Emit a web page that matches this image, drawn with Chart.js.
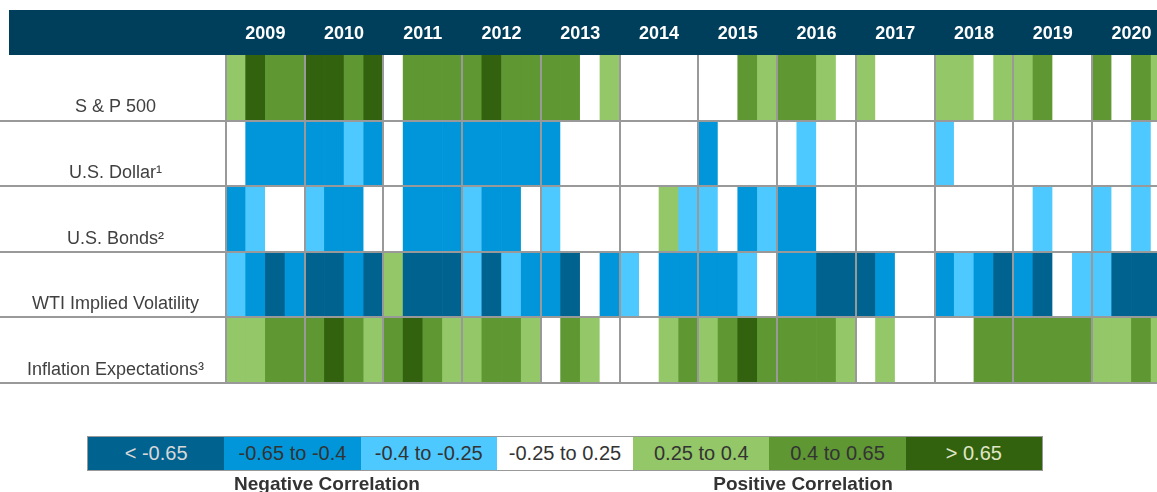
<!DOCTYPE html>
<html>
<head>
<meta charset="utf-8">
<script src="https://cdn.jsdelivr.net/npm/chart.js@4"></script>
<style>
  body { margin: 0; background: #fff; overflow: hidden; font-family: "Liberation Sans", Arial, sans-serif; }
  #wrap { position: absolute; left: 0; top: 0; width: 1157px; height: 492px; }
  #legend { position: absolute; left: 87px; top: 436px; width: 956px; height: 35px; display: flex; border: 1px solid #999; box-sizing: border-box; }
  #legend div { flex: 1; display: flex; align-items: center; justify-content: center; font-size: 20px; color: #333; }
  .grp { position: absolute; top: 473px; width: 220px; text-align: center; line-height: 22px; font-weight: bold; font-size: 19px; color: #333; }
</style>
</head>
<body>
<div id="wrap"><canvas id="myChart" width="1157" height="492"></canvas></div>
<div id="legend"></div>
<div class="grp" style="left:217px">Negative Correlation</div>
<div class="grp" style="left:693px">Positive Correlation</div>
<script>
"use strict";

// one column per quarter, 2009 Q1 .. 2020 Q4
var years = ["2009", "2010", "2011", "2012", "2013", "2014", "2015", "2016", "2017", "2018", "2019", "2020"];
var rows = ["S & P 500", "U.S. Dollar\u00b9", "U.S. Bonds\u00b2", "WTI Implied Volatility", "Inflation Expectations\u00b3"];

var sp500 = [0.3, 0.75, 0.5, 0.5, 0.75, 0.75, 0.5, 0.75, 0, 0.5, 0.5, 0.5, 0.5, 0.75, 0.5, 0.5,
    0.5, 0.5, 0, 0.3, 0, 0, 0, 0, 0, 0, 0.5, 0.3, 0.5, 0.5, 0.3, 0,
    0.3, 0, 0, 0, 0.3, 0.3, 0, 0.3, 0.3, 0.5, 0, 0, 0.5, 0, 0.5, 0.3];
var usDollar = [0, -0.5, -0.5, -0.5, -0.5, -0.5, -0.3, -0.5, 0, -0.5, -0.5, -0.5, -0.5, -0.5, -0.5, -0.5,
    -0.5, 0, 0, 0, 0, 0, 0, 0, -0.5, 0, 0, 0, 0, -0.3, 0, 0,
    0, 0, 0, 0, -0.3, 0, 0, 0, 0, 0, 0, 0, 0, 0, -0.3, 0];
var usBonds = [-0.5, -0.3, 0, 0, -0.3, -0.5, -0.5, 0, 0, -0.5, -0.5, -0.5, -0.3, -0.5, -0.5, 0,
    -0.3, 0, 0, 0, 0, 0, 0.3, -0.3, -0.3, 0, -0.5, -0.3, -0.5, -0.5, 0, 0,
    0, 0, 0, 0, 0, 0, 0, 0, 0, -0.3, 0, 0, -0.3, 0, -0.3, 0];
var wtiVol = [-0.3, -0.5, -0.75, -0.5, -0.75, -0.75, -0.5, -0.75, 0.3, -0.75, -0.75, -0.75, -0.3, -0.75, -0.3, -0.5,
    -0.5, -0.75, 0, -0.5, -0.3, 0, -0.5, -0.5, -0.5, -0.5, -0.3, 0, -0.5, -0.5, -0.75, -0.75,
    -0.75, -0.5, 0, 0, -0.5, -0.3, -0.5, -0.75, -0.5, -0.75, 0, -0.3, -0.3, -0.75, -0.75, -0.75];
var inflation = [0.3, 0.3, 0.5, 0.5, 0.5, 0.75, 0.5, 0.3, 0.5, 0.75, 0.5, 0.3, 0.3, 0.5, 0.5, 0.3,
    0, 0.5, 0.3, 0, 0, 0, 0.3, 0.5, 0.3, 0.5, 0.75, 0.5, 0.5, 0.5, 0.5, 0.3,
    0, 0.3, 0, 0, 0, 0, 0.5, 0.5, 0.5, 0.5, 0.5, 0.5, 0.3, 0.3, 0.5, 0.3];

var bands = ["< -0.65", "-0.65 to -0.4", "-0.4 to -0.25", "-0.25 to 0.25", "0.25 to 0.4", "0.4 to 0.65", "> 0.65"];
var bandColors = ["#00628f", "#0096d9", "#4dc9ff", "#ffffff", "#93c767", "#5f9733", "#32620e"];

function cellColor(v) {
    if (v < -0.65) return bandColors[0];
    if (v < -0.4) return bandColors[1];
    if (v < -0.25) return bandColors[2];
    if (v <= 0.25) return bandColors[3];
    if (v <= 0.4) return bandColors[4];
    if (v <= 0.65) return bandColors[5];
    return bandColors[6];
}

var series = [sp500, usDollar, usBonds, wtiVol, inflation];

// navy header band + the grey grid
var tableLines = {
    id: 'tableLines',
    beforeDraw: function (chart) {
        var ctx = chart.ctx, xs = chart.scales.x;
        ctx.save();
        ctx.fillStyle = '#003f5c';
        ctx.fillRect(9, xs.top, chart.width - 9, xs.bottom - xs.top);
        ctx.restore();
    },
    afterDatasetsDraw: function (chart) {
        var ctx = chart.ctx, xs = chart.scales.x, ys = chart.scales.y, area = chart.chartArea;
        ctx.save();
        ctx.strokeStyle = '#999';
        ctx.lineWidth = 2;
        ctx.beginPath();
        for (var k = 0; k <= years.length; k++) {
            var px = Math.round(xs.getPixelForValue(k * 4));
            if (px > area.right) continue;
            ctx.moveTo(px, area.top);
            ctx.lineTo(px, area.bottom);
        }
        for (var r = 1; r <= rows.length; r++) {
            var py = Math.round(ys.getPixelForValue(r));
            ctx.moveTo(0, py);
            ctx.lineTo(area.right, py);
        }
        ctx.stroke();
        ctx.restore();
    }
};

var ctx = document.getElementById('myChart').getContext('2d');
var chart = new Chart(ctx, {
    type: 'bar',
    data: {
        datasets: series.map(function (vals, r) {
            return {
                label: rows[r],
                data: vals.map(function (v, i) { return {x: i + 0.5, y: [r, r + 1], v: v}; }),
                backgroundColor: function (c) { return c.raw ? cellColor(c.raw.v) : '#fff'; },
                borderWidth: 0,
                barPercentage: 1,
                categoryPercentage: 1,
                grouped: false
            };
        })
    },
    options: {
        responsive: false,
        animation: false,
        layout: { padding: { top: 10, bottom: 109, left: 0, right: 0 } },
        plugins: { legend: { display: false }, tooltip: { enabled: false } },
        scales: {
            x: {
                type: 'linear',
                position: 'top',
                offset: false,
                min: 0,
                max: 47.3,
                grid: { display: false, drawTicks: false },
                border: { display: false },
                afterBuildTicks: function (scale) {
                    scale.ticks = years.map(function (y, i) { return {value: i * 4 + 2}; });
                },
                afterFit: function (scale) { scale.height = 45; },
                ticks: {
                    padding: 0,
                    maxRotation: 0,
                    autoSkip: false,
                    color: '#ffffff',
                    font: { family: 'Liberation Sans', size: 18, weight: 'bold', lineHeight: '42px' },
                    callback: function (value, index) { return years[index]; }
                }
            },
            y: {
                type: 'linear',
                min: 0,
                max: 5,
                reverse: true,
                grid: { display: false },
                border: { display: false },
                afterBuildTicks: function (scale) {
                    scale.ticks = rows.map(function (name, i) { return {value: i + 0.8}; });
                },
                afterFit: function (scale) { scale.width = 226; },
                ticks: {
                    crossAlign: 'center',
                    padding: 14,
                    autoSkip: false,
                    color: '#404040',
                    font: { family: 'Liberation Sans', size: 18 },
                    callback: function (value, index) { return rows[index]; }
                }
            }
        }
    },
    plugins: [tableLines]
});

// colour key under the table
var legend = document.getElementById('legend');
bands.forEach(function (b, i) {
    var cell = document.createElement('div');
    cell.textContent = b;
    cell.style.background = bandColors[i];
    if (i === 0) cell.style.color = '#d8d8d8';
    if (i === 6) cell.style.color = '#e0e6c8';
    legend.appendChild(cell);
});
</script>
</body>
</html>
